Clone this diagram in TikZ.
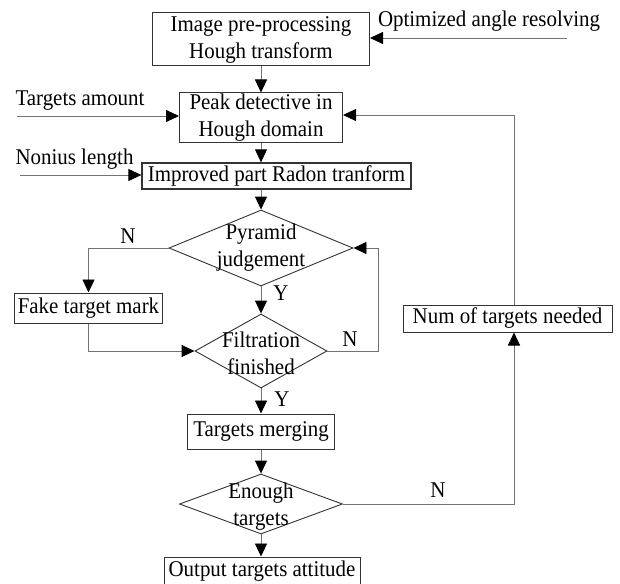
\documentclass[tikz,border=0pt]{standalone}
\usepackage{fontspec}
\setmainfont{Liberation Serif}[FakeStretch=0.93]
\usetikzlibrary{arrows.meta,shapes.geometric}
\begin{document}
\begin{tikzpicture}[x=1pt,y=-1pt,
 box/.style={draw=black!80, line width=1pt, inner sep=0pt, align=center},
 dia/.style={diamond, draw=black!80, line width=0.9pt, inner sep=0pt},
 txt/.style={inner sep=0pt, align=center},
 conn/.style={draw=black!55, line width=0.9pt},
 arr/.style={conn, -{Triangle[length=13pt,width=12pt,black]}},
 font=\fontsize{22.5}{27}\selectfont]
\useasboundingbox (0,0) rectangle (620,583);
\clip (0,0) rectangle (620,583);
% main column
\node[box, minimum width=217pt, minimum height=53pt] (prep) at (261,39.5) {Image pre-processing\\Hough transform};
\node[box, minimum width=163pt, minimum height=49pt] (peak) at (261,117.5) {Peak detective in\\Hough domain};
\node[box, minimum width=269pt, minimum height=26pt, line width=1.3pt] (radon) at (276.5,176) {Improved part Radon tranform};
\node[dia, minimum width=184pt, minimum height=76pt] (pyr) at (261,248) {};
\node[txt] (pyrt) at (261,248) {Pyramid\\judgement};
\node[box, minimum width=148pt, minimum height=30pt] (fake) at (88.5,308) {Fake target mark};
\node[dia, minimum width=132pt, minimum height=74pt] (filt) at (261,351) {};
\node[txt] (filtt) at (261,353) {Filtration\\finished};
\node[box, minimum width=147pt, minimum height=35pt] (merge) at (261,431.5) {Targets merging};
\node[dia, minimum width=163pt, minimum height=60pt] (enough) at (261,504) {};
\node[txt] (enought) at (261,507) {Enough\\targets};
\node[box, minimum width=196pt, minimum height=28pt] (out) at (262,571) {Output targets attitude};
\node[box, minimum width=209pt, minimum height=27pt] (num) at (507.5,318.5) {Num of targets needed};
% side texts
\node[txt] (opt) at (489,21) {Optimized angle resolving};
\node[txt] (tam) at (80,101) {Targets amount};
\node[txt] (non) at (74.5,159) {Nonius length};
% branch labels
\node[txt] (n1) at (128,236) {N};
\node[txt] (y1) at (281,293) {Y};
\node[txt] (n2) at (350,339) {N};
\node[txt] (y2) at (282,399) {Y};
\node[txt] (n3) at (438,490) {N};
% free ends / corners
\coordinate (optS) at (567,38);
\coordinate (tamS) at (17,116);
\coordinate (nonS) at (20,175);
\coordinate (fbR) at (514,504);
\coordinate (fbT) at (514,115);
\coordinate (lpR) at (378,351);
% connectors
\draw[arr] (prep.south) -- (peak.north);
\draw[arr] (peak.south) -- (peak.south |- radon.north);
\draw[arr] (pyr.north |- radon.south) -- (pyr.north);
\draw[arr] (pyr.south) -- (filt.north);
\draw[arr] (filt.south) -- (merge.north);
\draw[arr] (merge.south) -- (enough.north);
\draw[arr] (enough.south) -- (enough.south |- out.north);
\draw[arr] (optS) -- (optS -| prep.east);
\draw[arr] (tamS) -- (tamS -| peak.west);
\draw[arr] (nonS) -- (nonS -| radon.west);
\draw[arr] (pyr.west) -| (fake.north);
\draw[arr] (fake.south) |- (filt.west);
\draw[arr] (filt.east) -- (lpR) |- (pyr.east);
\draw[arr] (enough.east) -- (fbR) -- (fbR |- num.south);
\draw[arr] (fbR |- num.north) -- (fbT) -- (fbT -| peak.east);
\end{tikzpicture}
\end{document}
